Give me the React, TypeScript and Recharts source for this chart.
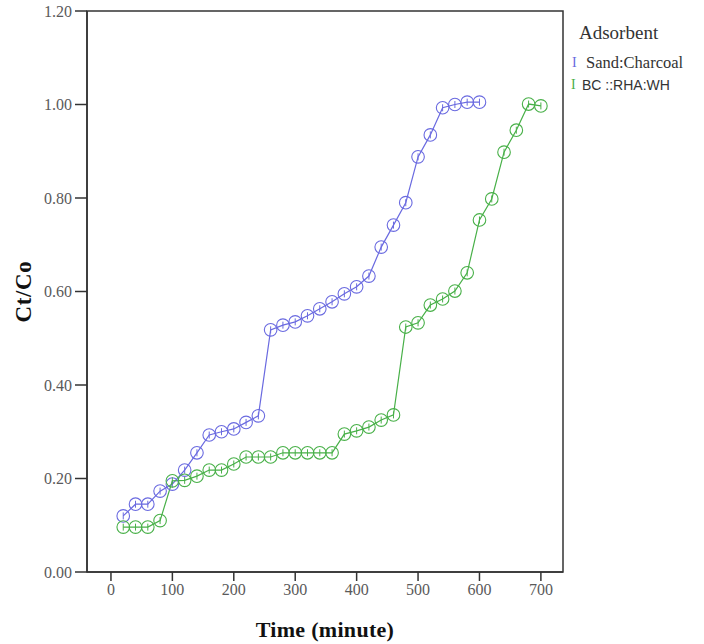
import React from "react";
import { LineChart, Line, XAxis, YAxis, ReferenceArea } from "recharts";

// minutes, one reading every 20 min
const sandTime = [
  20, 40, 60, 80, 100, 120, 140, 160, 180, 200, 220, 240, 260, 280, 300,
  320, 340, 360, 380, 400, 420, 440, 460, 480, 500, 520, 540, 560, 580, 600,
];
const sandCtCo = [
  0.12, 0.145, 0.145, 0.173, 0.188, 0.218, 0.255, 0.293, 0.3, 0.306, 0.32,
  0.334, 0.518, 0.528, 0.535, 0.548, 0.563, 0.578, 0.595, 0.61, 0.633, 0.695,
  0.742, 0.79, 0.888, 0.935, 0.993, 1.0, 1.005, 1.005,
];

const bcTime = [
  20, 40, 60, 80, 100, 120, 140, 160, 180, 200, 220, 240, 260, 280, 300,
  320, 340, 360, 380, 400, 420, 440, 460, 480, 500, 520, 540, 560, 580, 600,
  620, 640, 660, 680, 700,
];
const bcCtCo = [
  0.096, 0.096, 0.096, 0.11, 0.195, 0.196, 0.205, 0.218, 0.218, 0.231, 0.246,
  0.246, 0.246, 0.255, 0.255, 0.255, 0.255, 0.255, 0.295, 0.302, 0.31, 0.325,
  0.336, 0.524, 0.533, 0.571, 0.584, 0.601, 0.64, 0.753, 0.798, 0.898, 0.945,
  1.001, 0.997,
];

const xTicks = [0, 100, 200, 300, 400, 500, 600, 700];
const yTicks = [0, 0.2, 0.4, 0.6, 0.8, 1.0, 1.2];

const BLUE = "#6a6ae0";
const GREEN = "#48b048";

const sandData = sandTime.map((t, i) => ({ t, v: sandCtCo[i] }));
const bcData = bcTime.map((t, i) => ({ t, v: bcCtCo[i] }));

const X_MIN = -39;
const X_MAX = 736;

const SERIF = "'Liberation Serif', 'Times New Roman', serif";

function makeDot(color: string) {
  return (props: any) => {
    const { cx, cy, index } = props;
    if (cx == null || cy == null) return null;
    return (
      <g key={`d-${color}-${index}`}>
        <circle cx={cx} cy={cy} r={6.3} fill="none" stroke={color} strokeWidth={1.1} />
        <line x1={cx} y1={cy - 3.5} x2={cx} y2={cy + 3.5} stroke={color} strokeWidth={1} />
      </g>
    );
  };
}

const tickStyle = {
  fontFamily: SERIF,
  fontSize: 16,
  fill: "#5a5a5a",
};

function LegendBox() {
  return (
    <div
      style={{
        position: "absolute",
        left: 566,
        top: 21,
        width: 138,
        fontFamily: SERIF,
        color: "#333",
      }}
    >
      <div style={{ fontSize: 19, marginLeft: 13, lineHeight: "24px" }}>Adsorbent</div>
      <div style={{ display: "flex", alignItems: "center", height: 22, marginTop: 7 }}>
        <span style={{ color: BLUE, width: 20, paddingLeft: 6, fontSize: 14, boxSizing: "border-box" }}>I</span>
        <span style={{ fontFamily: SERIF, fontSize: 16.5 }}>Sand:Charcoal</span>
      </div>
      <div style={{ display: "flex", alignItems: "center", height: 22 }}>
        <span style={{ color: GREEN, width: 16, paddingLeft: 5, fontSize: 14, boxSizing: "border-box" }}>I</span>
        <span style={{ fontFamily: "'Liberation Sans', Arial, sans-serif", fontSize: 14 }}>BC ::RHA:WH</span>
      </div>
    </div>
  );
}

export default function App() {
  return (
    <div style={{ position: "absolute", left: 0, top: 0, width: 704, height: 644, background: "#fff" }}>
      <LineChart
        width={704}
        height={644}
        margin={{ top: 11, right: 141, bottom: 0, left: 0 }}
      >
        <XAxis
          dataKey="t"
          type="number"
          domain={[X_MIN, X_MAX]}
          ticks={xTicks}
          allowDataOverflow
          height={72}
          tick={tickStyle}
          tickSize={9}
          tickMargin={3}
          axisLine={{ stroke: "#333", strokeWidth: 1.5 }}
          tickLine={{ stroke: "#333", strokeWidth: 1.5 }}
          label={{
            value: "Time (minute)",
            position: "insideBottom",
            offset: 7,
            style: {
              fontFamily: SERIF,
              fontWeight: "bold",
              fontSize: 22,
              letterSpacing: 0.3,
              fill: "#111",
            },
          }}
        />
        <YAxis
          type="number"
          domain={[0, 1.2]}
          ticks={yTicks}
          width={87}
          tick={tickStyle}
          tickFormatter={(v: number) => v.toFixed(2)}
          tickSize={12}
          tickMargin={3}
          axisLine={{ stroke: "#333", strokeWidth: 1.5 }}
          tickLine={{ stroke: "#333", strokeWidth: 1.5 }}
          label={{
            value: "Ct/Co",
            angle: -90,
            position: "insideLeft",
            offset: 23,
            style: {
              textAnchor: "middle",
              fontFamily: SERIF,
              fontWeight: "bold",
              fontSize: 23,
              letterSpacing: 0.6,
              fill: "#111",
            },
          }}
        />
        <ReferenceArea
          x1={X_MIN}
          x2={X_MAX}
          y1={0}
          y2={1.2}
          fill="none"
          stroke="#333"
          strokeWidth={1.5}
          ifOverflow="visible"
        />
        <Line
          data={sandData}
          dataKey="v"
          name="Sand:Charcoal"
          stroke={BLUE}
          strokeWidth={1.2}
          dot={makeDot(BLUE)}
          activeDot={false}
          isAnimationActive={false}
        />
        <Line
          data={bcData}
          dataKey="v"
          name="BC ::RHA:WH"
          stroke={GREEN}
          strokeWidth={1.2}
          dot={makeDot(GREEN)}
          activeDot={false}
          isAnimationActive={false}
        />
      </LineChart>
      <LegendBox />
    </div>
  );
}
